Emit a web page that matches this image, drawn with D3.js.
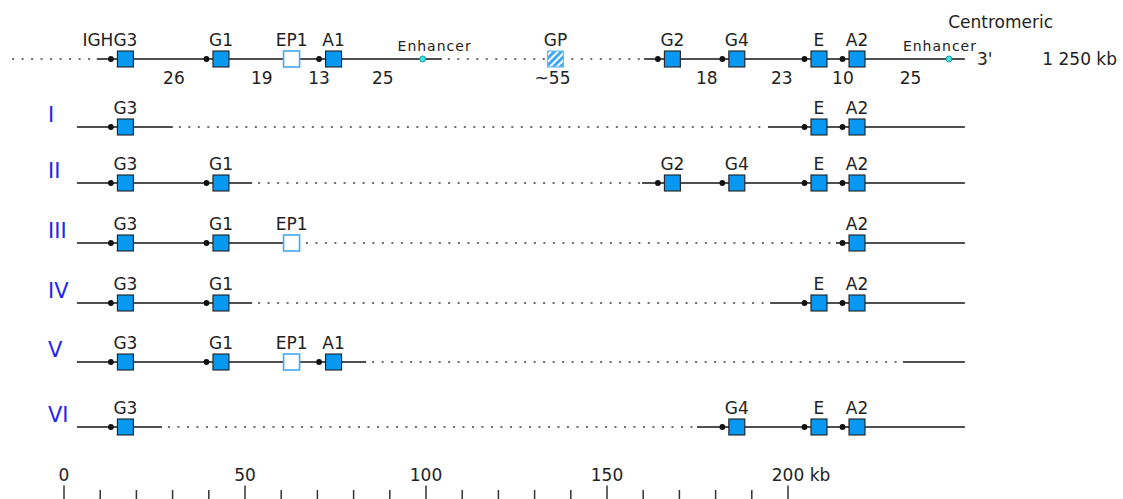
<!DOCTYPE html>
<html><head><meta charset="utf-8">
<script src="https://cdn.jsdelivr.net/npm/d3@7"></script>
<style>
html,body{margin:0;padding:0;background:#fff;}
svg{display:block;font-family:"DejaVu Sans",sans-serif;}
</style></head><body>
<svg id="chart" width="1123" height="499"></svg>
<script>
// ---------- data (positions in kb) ----------
const geneNames = ["G3", "G1", "EP1", "A1", "G2", "G4", "E", "A2"];
const genePos   = [17.1, 43.5, 63.0, 74.6, 168.2, 186.0, 208.7, 219.2];
const pseudoGenes = ["EP1"];
const gpName = "GP";
const gpPos = 135.9;
const enhancerPos = [99.2, 244.6];
const distLabels = ["26", "19", "13", "25", "~55", "18", "23", "10", "25"];
const distPos    = [30.5, 54.8, 70.6, 88.2, 135.1, 177.7, 198.4, 215.3, 234.0];
const topSolid  = [[9.2, 104.5], [160.4, 249]];
const topDotted = [[-14.2, 9.2], [104.5, 160.4]];
const haplotypes = ["I", "II", "III", "IV", "V", "VI"];
const haplotypeGenes = [
  ["G3", "E", "A2"],
  ["G3", "G1", "G2", "G4", "E", "A2"],
  ["G3", "G1", "EP1", "A2"],
  ["G3", "G1", "E", "A2"],
  ["G3", "G1", "EP1", "A1"],
  ["G3", "G4", "E", "A2"]
];
const haplotypeSolid = [
  [[3.7, 30.2], [194.6, 249]],
  [[3.7, 52.1], [159.8, 249]],
  [[3.7, 65.3], [213.4, 249]],
  [[3.7, 52.1], [195.2, 249]],
  [[3.7, 83.6], [231.9, 249]],
  [[3.7, 27.2], [175.0, 249]]
];
const majorTicks = [0, 50, 100, 150, 200];
const majorTickLabels = ["0", "50", "100", "150", "200"];
const minorTicks = [10, 20, 30, 40, 60, 70, 80, 90, 110, 120, 130, 140, 160, 170, 180, 190];
const axisUnit = "kb";
const prefixLabel = "IGH";
const endLabel = "3'";
const sizeLabel = "1 250 kb";
const centroLabel = "Centromeric";
const enhancerLabel = "Enhancer";

// ---------- layout ----------
const svg = d3.select("#chart");
const x = d3.scaleLinear().domain([0, 200]).range([63.5, 787.5]);
const y = d3.scaleOrdinal().domain(haplotypes).range([127, 183, 243, 303, 362, 427]);
const topY = 59;
const posOf = name => genePos[geneNames.indexOf(name)];

const BLUE = "#0798f2", LINE = "#4f4f4f", DOT = "#6f6f6f";

const defs = svg.append("defs");
const pat = defs.append("pattern").attr("id", "hatch").attr("patternUnits", "userSpaceOnUse")
  .attr("width", 5).attr("height", 5).attr("patternTransform", "rotate(45)");
pat.append("rect").attr("width", 5).attr("height", 5).attr("fill", "#3ea7f2");
pat.append("rect").attr("width", 2).attr("height", 5).attr("fill", "#fff");

function drawSolid(g, segs, yy) {
  g.selectAll(null).data(segs).join("line")
    .attr("x1", d => x(d[0])).attr("x2", d => x(d[1]))
    .attr("y1", yy).attr("y2", yy)
    .attr("stroke", LINE).attr("stroke-width", 2);
}
function drawDotted(g, segs, yy, pad) {
  g.selectAll(null).data(segs).join("line")
    .attr("x1", (d, i) => x(d[0]) + (pad && pad[i] !== undefined ? pad[i] : 6))
    .attr("x2", d => x(d[1]) - 2)
    .attr("y1", yy).attr("y2", yy)
    .attr("stroke", DOT).attr("stroke-width", 2)
    .attr("stroke-dasharray", "2,7.5");
}
function drawGenes(g, names, yy) {
  const data = names.map(n => ({name: n, pos: posOf(n), pseudo: pseudoGenes.includes(n)}));
  g.selectAll(null).data(data.filter(d => !d.pseudo)).join("circle")
    .attr("cx", d => x(d.pos) - 14.5).attr("cy", yy).attr("r", 2.9).attr("fill", "#111");
  g.selectAll(null).data(data).join("rect")
    .attr("x", d => x(d.pos) - 8).attr("y", yy - 8).attr("width", 16).attr("height", 16)
    .attr("fill", d => d.pseudo ? "#fff" : BLUE)
    .attr("stroke", d => d.pseudo ? "#45a8f2" : "#1f1f1f")
    .attr("stroke-width", d => d.pseudo ? 1.6 : 1.1);
  g.selectAll(null).data(data).join("text")
    .attr("class", "glabel")
    .attr("x", d => x(d.pos)).attr("y", yy - 13)
    .attr("text-anchor", "middle").attr("font-size", 17).attr("fill", "#222")
    .text(d => d.name);
}

// ---------- top reference row ----------
const topG = svg.append("g");
drawDotted(topG, topDotted, topY, [0, 6]);
drawSolid(topG, topSolid, topY);
drawGenes(topG, geneNames, topY);
// IGH prefix before G3 label
const g3text = topG.selectAll("text.glabel").filter(d => d.name === "G3");
const g3w = g3text.node().getComputedTextLength();
topG.append("text").attr("x", x(posOf("G3")) - g3w / 2).attr("y", topY - 13)
  .attr("text-anchor", "end").attr("font-size", 17).attr("fill", "#222").text(prefixLabel);
// GP pseudogene
topG.append("rect").attr("x", x(gpPos) - 8).attr("y", topY - 8).attr("width", 16).attr("height", 16)
  .attr("fill", "url(#hatch)").attr("stroke", "#6cbaf4").attr("stroke-width", 1.2);
topG.append("text").attr("x", x(gpPos)).attr("y", topY - 13).attr("text-anchor", "middle")
  .attr("font-size", 17).attr("fill", "#222").text(gpName);
// enhancers
const enhDx = [12, -9];
topG.selectAll(null).data(enhancerPos).join("circle")
  .attr("cx", d => x(d)).attr("cy", topY).attr("r", 3)
  .attr("fill", "#3fe3e0").attr("stroke", "#1a9b9b").attr("stroke-width", 1);
topG.selectAll(null).data(enhancerPos).join("text")
  .attr("x", (d, i) => x(d) + enhDx[i]).attr("y", topY - 8)
  .attr("text-anchor", "middle").attr("font-size", 14).attr("letter-spacing", 1)
  .attr("fill", "#222").text(enhancerLabel);
// distances
topG.selectAll(null).data(distLabels).join("text")
  .attr("x", (d, i) => x(distPos[i])).attr("y", topY + 25)
  .attr("text-anchor", "middle").attr("font-size", 17).attr("fill", "#222")
  .text(d => d);
topG.append("text").attr("x", x(249) + 12).attr("y", topY + 6)
  .attr("font-size", 17).attr("fill", "#222").text(endLabel);
topG.append("text").attr("x", 1117).attr("y", topY + 6).attr("text-anchor", "end")
  .attr("font-size", 17).attr("fill", "#222").text(sizeLabel);
topG.append("text").attr("x", 1053).attr("y", 28).attr("text-anchor", "end")
  .attr("font-size", 17).attr("fill", "#222").text(centroLabel);

// ---------- haplotype rows ----------
haplotypes.forEach((h, i) => {
  const yy = y(h);
  const g = svg.append("g");
  const solids = haplotypeSolid[i];
  drawDotted(g, [[solids[0][1], solids[1][0]]], yy);
  drawSolid(g, solids, yy);
  drawGenes(g, haplotypeGenes[i], yy);
  g.append("text").attr("x", 48).attr("y", yy - 5)
    .attr("font-size", 21).attr("fill", "#2323ee").text(h);
});

// ---------- axis ----------
const axY = 505;
const axMinor = svg.append("g").attr("transform", `translate(0,${axY})`)
  .call(d3.axisTop(x).tickValues(minorTicks).tickSize(15).tickFormat(""));
const axMajor = svg.append("g").attr("transform", `translate(0,${axY})`)
  .call(d3.axisTop(x).tickValues(majorTicks).tickSize(19.5).tickPadding(4.5)
    .tickFormat((d, i) => majorTickLabels[i]));
[axMinor, axMajor].forEach(a => {
  a.select(".domain").remove();
  a.selectAll(".tick line").attr("stroke", "#333").attr("stroke-width", 1.5);
  a.selectAll("text").attr("font-size", 17).attr("fill", "#222")
    .attr("font-family", "DejaVu Sans, sans-serif");
});
const lastT = axMajor.selectAll(".tick text").filter((d, i) => i === majorTicks.length - 1);
const lw = lastT.node().getComputedTextLength();
lastT.attr("text-anchor", "start").attr("x", -lw / 2)
  .text(majorTickLabels[majorTickLabels.length - 1] + " " + axisUnit);
</script>
</body></html>
